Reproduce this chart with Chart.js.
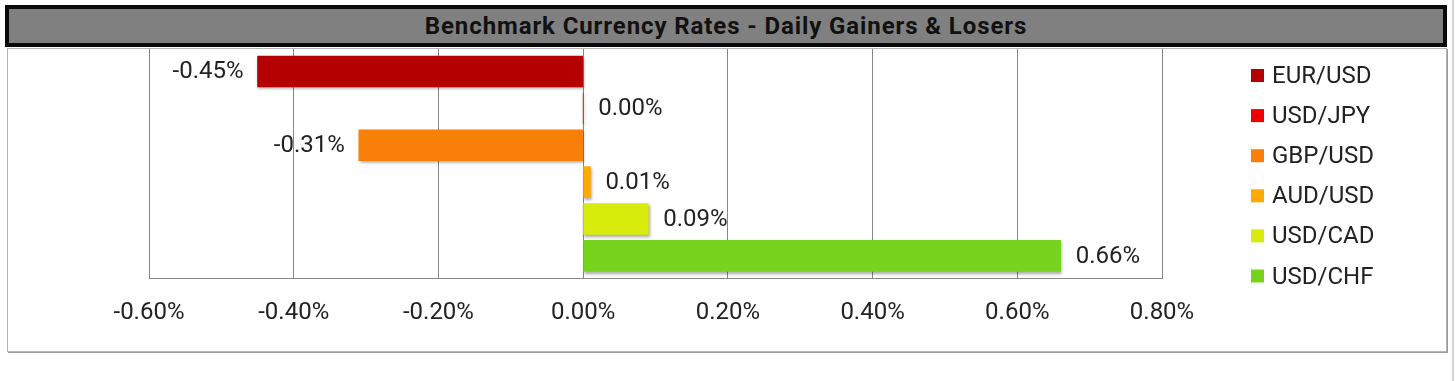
<!DOCTYPE html>
<html><head><meta charset="utf-8">
<script src="https://cdn.jsdelivr.net/npm/chart.js@4.4.1/dist/chart.umd.min.js"></script>
<style>
html,body{margin:0;padding:0;background:#fff;width:1455px;height:381px;overflow:hidden;}
#title{position:absolute;left:5px;top:5px;width:1442px;height:42px;box-sizing:border-box;border:4px solid #0a0a0a;background:#808080;font:bold 24px Roboto, sans-serif;letter-spacing:0.9px;color:#111;text-align:center;line-height:35px;white-space:nowrap;}
#box{position:absolute;left:7px;top:48px;width:1440px;height:304px;box-sizing:border-box;border:1px solid #b4b4b4;box-shadow:1px 1px 0 #9a9a9a;}
#edge{position:absolute;left:1452px;top:0;width:2px;height:381px;background:#d6d6d6;}
canvas{position:absolute;left:0;top:0;}
</style></head><body>
<div id="title">Benchmark Currency Rates - Daily Gainers &amp; Losers</div>
<div id="box"></div>
<div id="edge"></div>
<canvas id="c" width="1455" height="381"></canvas>
<script>
const categories = ['EUR/USD','USD/JPY','GBP/USD','AUD/USD','USD/CAD','USD/CHF'];
const changes = [-0.45, 0.00, -0.31, 0.01, 0.09, 0.66];
const barColors = ['#B40000','#F00000','#F98008','#FFAA00','#D8EC0B','#76D41E'];
const xTicks = [-0.6, -0.4, -0.2, 0, 0.2, 0.4, 0.6, 0.8];
const fmt = v => v.toFixed(2) + '%';
const FONT = 'Roboto, sans-serif';
const TXT = '#222';

const barShadow = {
  id: 'barShadow',
  beforeDatasetDraw(chart) {
    const c = chart.ctx; c.save();
    c.shadowColor = 'rgba(0,0,0,0.35)'; c.shadowBlur = 3; c.shadowOffsetX = 1; c.shadowOffsetY = 2;
  },
  afterDatasetDraw(chart) { chart.ctx.restore(); }
};

const valueLabels = {
  id: 'valueLabels',
  afterDatasetsDraw(chart) {
    const c = chart.ctx; const meta = chart.getDatasetMeta(0);
    c.save(); c.font = '24px ' + FONT; c.fillStyle = TXT; c.textBaseline = 'middle';
    meta.data.forEach((el, i) => {
      const v = changes[i];
      if (v < 0) { c.textAlign = 'right'; c.fillText(fmt(v), el.x - 14, el.y + 1); }
      else { c.textAlign = 'left'; c.fillText(fmt(v), el.x + 15, el.y + 1); }
    });
    c.restore();
  }
};

const sideLegend = {
  id: 'sideLegend',
  afterDraw(chart) {
    const c = chart.ctx; const a = chart.chartArea;
    const x0 = a.right + 89, y0 = a.top + 27, step = 40.1;
    c.save(); c.font = '24px ' + FONT; c.textBaseline = 'middle'; c.textAlign = 'left';
    categories.forEach((name, i) => {
      const cy = y0 + i * step;
      c.fillStyle = barColors[i]; c.fillRect(x0, cy - 7, 13, 13);
      c.fillStyle = TXT; c.fillText(name, x0 + 21, cy + 1);
    });
    c.restore();
  }
};

new Chart(document.getElementById('c'), {
  type: 'bar',
  data: {
    labels: categories,
    datasets: [{
      data: changes.map((v, i) => ({ x: v, y: i })),
      backgroundColor: barColors,
      borderWidth: 0,
      barThickness: 31
    }]
  },
  options: {
    indexAxis: 'y',
    responsive: false,
    animation: false,
    devicePixelRatio: 1,
    layout: { padding: { left: 149, right: 293, top: 49, bottom: 43 } },
    plugins: { legend: { display: false }, tooltip: { enabled: false } },
    scales: {
      x: {
        type: 'linear', min: -0.6, max: 0.8,
        afterBuildTicks: s => { s.ticks = xTicks.map(v => ({ value: v })); },
        afterFit: s => { s.height = 60; },
        ticks: { callback: v => fmt(v), font: { family: FONT, size: 24 }, color: TXT, padding: 21, maxRotation: 0, autoSkip: false },
        grid: { color: '#878787', lineWidth: 1, drawTicks: false },
        border: { display: true, color: '#878787' }
      },
      y: { type: 'linear', reverse: true, bounds: 'data', offset: false, min: -0.61, max: 5.6, display: false }
    }
  },
  plugins: [barShadow, valueLabels, sideLegend]
});
</script>
</body></html>
